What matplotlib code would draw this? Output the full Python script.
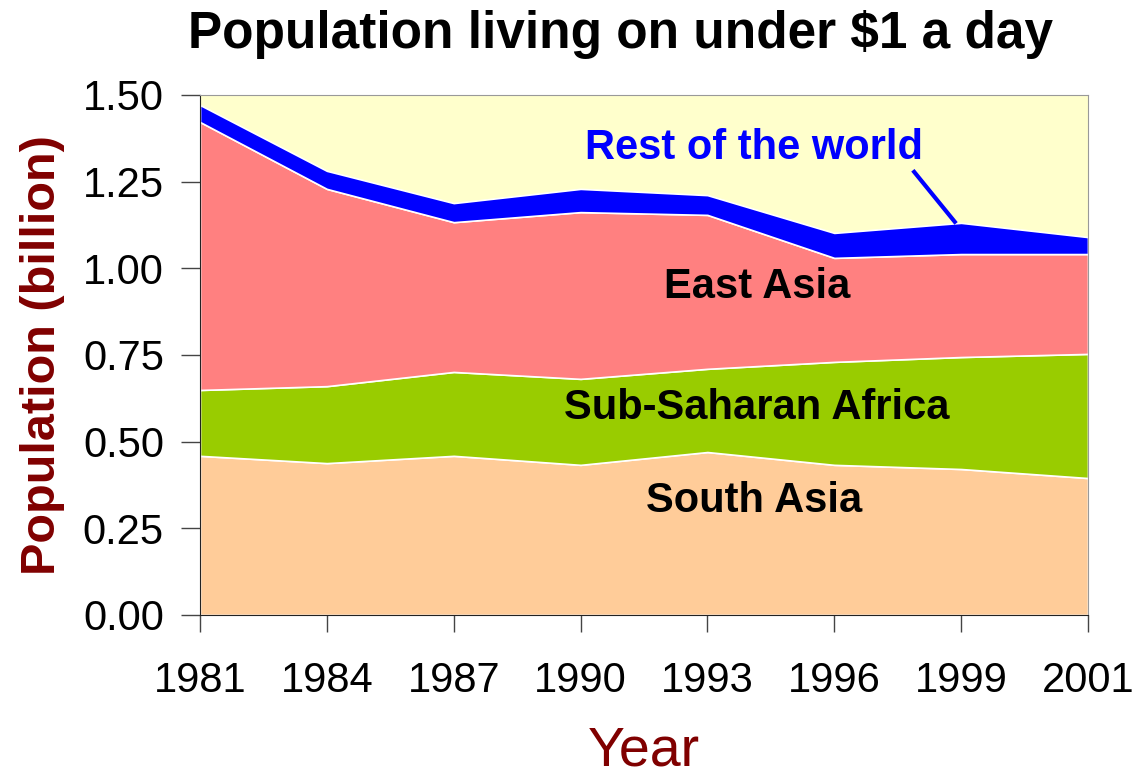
import numpy as np
import matplotlib.pyplot as plt

years = ['1981', '1984', '1987', '1990', '1993', '1996', '1999', '2001']
# population in billions, per region (stacked bottom to top)
south_asia = [0.459, 0.438, 0.459, 0.433, 0.470, 0.433, 0.421, 0.395]
ss_africa = [0.190, 0.222, 0.242, 0.248, 0.240, 0.297, 0.323, 0.358]
east_asia = [0.773, 0.569, 0.432, 0.481, 0.444, 0.300, 0.297, 0.288]
rest_world = [0.049, 0.052, 0.055, 0.067, 0.057, 0.072, 0.090, 0.049]

colors = ['#FFCC99', '#99CC00', '#FF8080', '#0000FF']

plt.rcParams['font.family'] = ['Liberation Sans', 'DejaVu Sans']

fig = plt.figure(figsize=(11.34, 7.75), dpi=100)
ax = fig.add_axes([0.1764, 0.2065, 0.783, 0.671])
ax.set_facecolor('#FFFFCC')

x = np.arange(len(years))
ax.stackplot(x, south_asia, ss_africa, east_asia, rest_world,
             colors=colors, edgecolor='white', linewidth=1.2)

ax.set_xlim(0, len(years) - 1)
ax.set_ylim(0, 1.5)
ax.set_xticks(x)
ax.set_xticklabels(years, fontsize=30)
ax.set_yticks([0, 0.25, 0.5, 0.75, 1.0, 1.25, 1.5])
ax.set_yticklabels(['0.00', '0.25', '0.50', '0.75', '1.00', '1.25', '1.50'], fontsize=30)
ax.tick_params(axis='x', direction='out', length=12, width=1, pad=21, color='#444444')
ax.tick_params(axis='y', direction='out', length=14, width=1, pad=12, color='#444444')

for side in ['top', 'right']:
    ax.spines[side].set_color('#999999')
for side in ['left', 'bottom']:
    ax.spines[side].set_color('#222222')

ax.set_ylabel('Population (billion)', fontsize=35, fontweight='bold', color='#800000')
ax.yaxis.set_label_coords(-0.152, 0.5)
ax.set_xlabel('Year', fontsize=40, color='#800000')
ax.xaxis.set_label_coords(0.5, -0.212)
fig.text(0.547, 0.955, 'Population living on under $1 a day', fontsize=37, fontweight='bold',
         ha='center', va='center')

ax.text(4.37, 1.348, 'Rest of the world', color='#0000FF', fontsize=30, fontweight='bold', ha='center', va='center')
ax.text(4.39, 0.947, 'East Asia', color='black', fontsize=30, fontweight='bold', ha='center', va='center')
ax.text(4.39, 0.597, 'Sub-Saharan Africa', color='black', fontsize=30, fontweight='bold', ha='center', va='center')
ax.text(4.37, 0.330, 'South Asia', color='black', fontsize=30, fontweight='bold', ha='center', va='center')
ax.plot([5.63, 5.95], [1.278, 1.134], color='#0000FF', linewidth=3)

fig.savefig('out.png', dpi=100)
